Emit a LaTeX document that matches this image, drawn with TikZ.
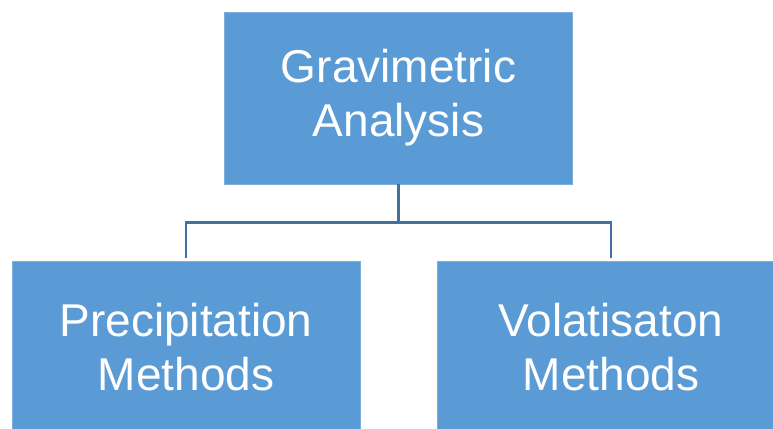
\documentclass[tikz,border=0pt]{standalone}
\usepackage{fontspec}
\setmainfont{Liberation Sans}
\usetikzlibrary{calc}
\definecolor{boxblue}{HTML}{5B9BD5}
\definecolor{lineblue}{HTML}{41719C}
\tikzset{
	box/.style={fill=boxblue, draw=boxblue!80!white, line width=0.6pt, minimum width=348pt, minimum height=172pt, inner sep=0pt, align=center, text=white, font=\fontsize{46}{54}\selectfont},
	link/.style={draw=lineblue, line width=2.4pt}
}
\begin{document}
\begin{tikzpicture}[x=1pt, y=-1pt]
		\useasboundingbox (0,0) rectangle (773,428);
		\clip (0,0) rectangle (773,428);
		\node[box] (grav) at (398.5,98) {Gravimetric\\Analysis};
		\node[box] (prec) at (186,347) {Precipitation\\Methods};
		\node[box] (vola) at (611,347) {Volatisaton\\Methods};

		\coordinate (fork) at ($(grav.south)+(0,38)$);
		\draw[link] (grav.south) -- (fork);
		\foreach \b in {prec,vola}
			\draw[link] (fork) -| ($(\b.north)+(0,-3)$);
	\end{tikzpicture}
\end{document}
